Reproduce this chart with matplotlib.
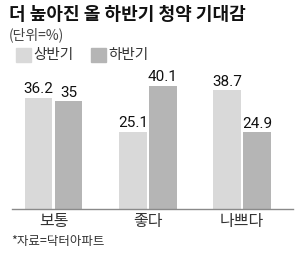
import matplotlib
matplotlib.use('Agg')
import matplotlib.pyplot as plt
import numpy as np
from matplotlib.patches import Rectangle

plt.rcParams['font.family'] = ['Noto Sans CJK KR', 'DejaVu Sans']

categories = ['보통', '좋다', '나쁘다']
series_names = ['상반기', '하반기']
first_half = [36.2, 25.1, 38.7]
second_half = [35, 40.1, 24.9]

colors = ['#d9d9d9', '#b5b5b5']

W, H = 300, 254


def fx(px):
    return px / W


def fy(py):
    return 1 - py / H


def main():
    fig = plt.figure(figsize=(W / 100, H / 100), dpi=100)

    # axes placed in pixel terms: x 12..293, y baseline 209.3, top 60
    ax = fig.add_axes([fx(12), fy(209.3), (293 - 12) / W, (209.3 - 60) / H])

    x = np.arange(len(categories))
    width = 0.292
    offset = 0.159
    b1 = ax.bar(x - offset, first_half, width, color=colors[0], linewidth=0)
    b2 = ax.bar(x + offset, second_half, width, color=colors[1], linewidth=0)

    for bars, vals in [(b1, first_half), (b2, second_half)]:
        for rect, v in zip(bars, vals):
            ax.annotate(f'{v:g}', (rect.get_x() + rect.get_width() / 2, v),
                        xytext=(0, 1), textcoords='offset points',
                        ha='center', va='bottom', fontsize=11,
                        family=['Roboto', 'DejaVu Sans'], color='#111111')

    ax.set_xlim(-0.44, 2.54)
    ax.set_ylim(0, 48.4)
    for s in ['top', 'right', 'left']:
        ax.spines[s].set_visible(False)
    ax.spines['bottom'].set_color('#8a8a8a')
    ax.spines['bottom'].set_linewidth(1)
    ax.set_yticks([])
    ax.set_xticks(x)
    ax.set_xticklabels(categories, fontsize=11.5, color='#333333')
    ax.tick_params(axis='x', length=0, pad=2.5)

    # title and notes
    fig.text(fx(9), fy(15), '더 높아진 올 하반기 청약 기대감', fontsize=13,
             fontweight='bold', color='#111111', va='center', ha='left')
    fig.text(fx(9), fy(35), '(단위=%)', fontsize=10, color='#444444',
             va='center', ha='left')

    # legend
    legend_pos = [(16, 33), (91, 108)]
    for (sx, tx), name, c in zip(legend_pos, series_names, colors):
        fig.patches.append(Rectangle((fx(sx), fy(62)), 15 / W, 14 / H,
                                     transform=fig.transFigure, color=c))
        fig.text(fx(tx), fy(55), name, fontsize=10.5, color='#333333',
                 va='center', ha='left')

    fig.text(fx(11), fy(241), '*자료=닥터아파트', fontsize=9, color='#333333',
             va='center', ha='left')

    fig.savefig('out.png', dpi=100)


if __name__ == "__main__":
    main()
